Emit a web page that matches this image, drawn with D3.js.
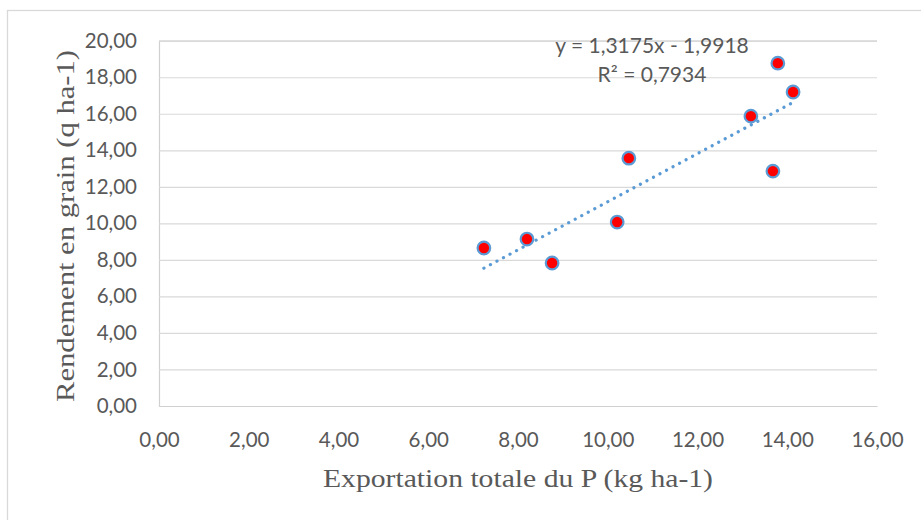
<!DOCTYPE html>
<html>
<head>
<meta charset="utf-8">
<script src="https://cdn.jsdelivr.net/npm/d3@7"></script>
<style>
  html, body { margin: 0; padding: 0; background: #fff; }
  svg { display: block; }
</style>
</head>
<body>
<svg id="chart" width="921" height="520"></svg>
<script>
// Phosphorus export vs grain yield, one point per plot
const exportP = [7.24, 8.20, 8.76, 10.21, 10.47, 13.19, 13.79, 13.68, 14.13];
const yieldGrain = [8.65, 9.14, 7.83, 10.07, 13.57, 15.87, 18.77, 12.86, 17.19];

// Linear trend fitted to the points
const slope = 1.3175;
const intercept = -1.9918;
const r2 = 0.7934;

const xTicks = [0, 2, 4, 6, 8, 10, 12, 14, 16];
const yTicks = [0, 2, 4, 6, 8, 10, 12, 14, 16, 18, 20];

const xTitle = "Exportation totale du P (kg ha-1)";
const yTitle = "Rendement en grain (q ha-1)";

const fmt = v => v.toFixed(2).replace(".", ",");
const fmt4 = v => v.toFixed(4).replace(".", ",");

const svg = d3.select("#chart");
const W = 921, H = 520;
const plot = { left: 159, right: 877, top: 40.7, bottom: 406 };
const sans = "Lato, 'Open Sans', sans-serif";
const serif = "'Liberation Serif', 'Times New Roman', serif";

const x = d3.scaleLinear().domain([0, 16]).range([plot.left, plot.right]);
const y = d3.scaleLinear().domain([0, 20]).range([plot.bottom, plot.top]);

// chart frame
svg.append("rect")
  .attr("x", 7.5).attr("y", 10.5)
  .attr("width", W + 20).attr("height", H + 20)
  .attr("fill", "#fff").attr("stroke", "#d9d9d9").attr("stroke-width", 1.3);

// horizontal gridlines + y labels
const yAxis = d3.axisLeft(y).tickValues(yTicks).tickFormat(fmt)
  .tickSize(-(plot.right - plot.left)).tickPadding(22);
const gy = svg.append("g").attr("transform", `translate(${plot.left},0)`).call(yAxis);
gy.select(".domain").attr("stroke", "#d0d0d0").attr("stroke-width", 1.2);
gy.selectAll(".tick line").attr("stroke", "#d9d9d9").attr("stroke-width", 1.2);
gy.selectAll(".tick text")
  .attr("fill", "#595959")
  .style("font-family", sans)
  .style("font-size", "20.5px");

// x labels (no vertical gridlines)
const xAxis = d3.axisBottom(x).tickValues(xTicks).tickFormat(fmt).tickSize(0).tickPadding(26.5);
const gx = svg.append("g").attr("transform", `translate(0,${plot.bottom})`).call(xAxis);
gx.select(".domain").attr("stroke", "#d0d0d0").attr("stroke-width", 1.2);
gx.selectAll(".tick text")
  .attr("fill", "#595959")
  .style("font-family", sans)
  .style("font-size", "20.5px");

// trendline over the observed x range
const xMin = d3.min(exportP), xMax = d3.max(exportP);
svg.append("line")
  .attr("x1", x(xMin)).attr("y1", y(slope * xMin + intercept))
  .attr("x2", x(xMax)).attr("y2", y(slope * xMax + intercept))
  .attr("stroke", "#5b9bd5").attr("stroke-width", 3.2)
  .attr("stroke-linecap", "round").attr("stroke-dasharray", "0.1 7.3");

// points
svg.append("g").selectAll("circle")
  .data(exportP.map((v, i) => [v, yieldGrain[i]]))
  .join("circle")
  .attr("cx", d => x(d[0])).attr("cy", d => y(d[1]))
  .attr("r", 6.3)
  .attr("fill", "#ff0000")
  .attr("stroke", "#5b9bd5").attr("stroke-width", 2.2);

// equation label
const eq = svg.append("g").attr("fill", "#595959")
  .style("font-family", sans).style("font-size", "21px")
  .attr("text-anchor", "middle");
eq.append("text").attr("x", 652).attr("y", 52.5)
  .text(`y = ${fmt4(slope)}x - ${fmt4(-intercept)}`);
eq.append("text").attr("x", 652).attr("y", 82)
  .text(`R² = ${fmt4(r2)}`);

// axis titles
svg.append("text")
  .attr("x", 518).attr("y", 487)
  .attr("text-anchor", "middle")
  .attr("fill", "#595959")
  .attr("textLength", 390).attr("lengthAdjust", "spacingAndGlyphs")
  .style("font-family", serif)
  .style("font-size", "26px")
  .text(xTitle);

svg.append("text")
  .attr("transform", `translate(74,226) rotate(-90)`)
  .attr("text-anchor", "middle")
  .attr("fill", "#595959")
  .attr("textLength", 352).attr("lengthAdjust", "spacingAndGlyphs")
  .style("font-family", serif)
  .style("font-size", "26px")
  .text(yTitle);
</script>
</body>
</html>
